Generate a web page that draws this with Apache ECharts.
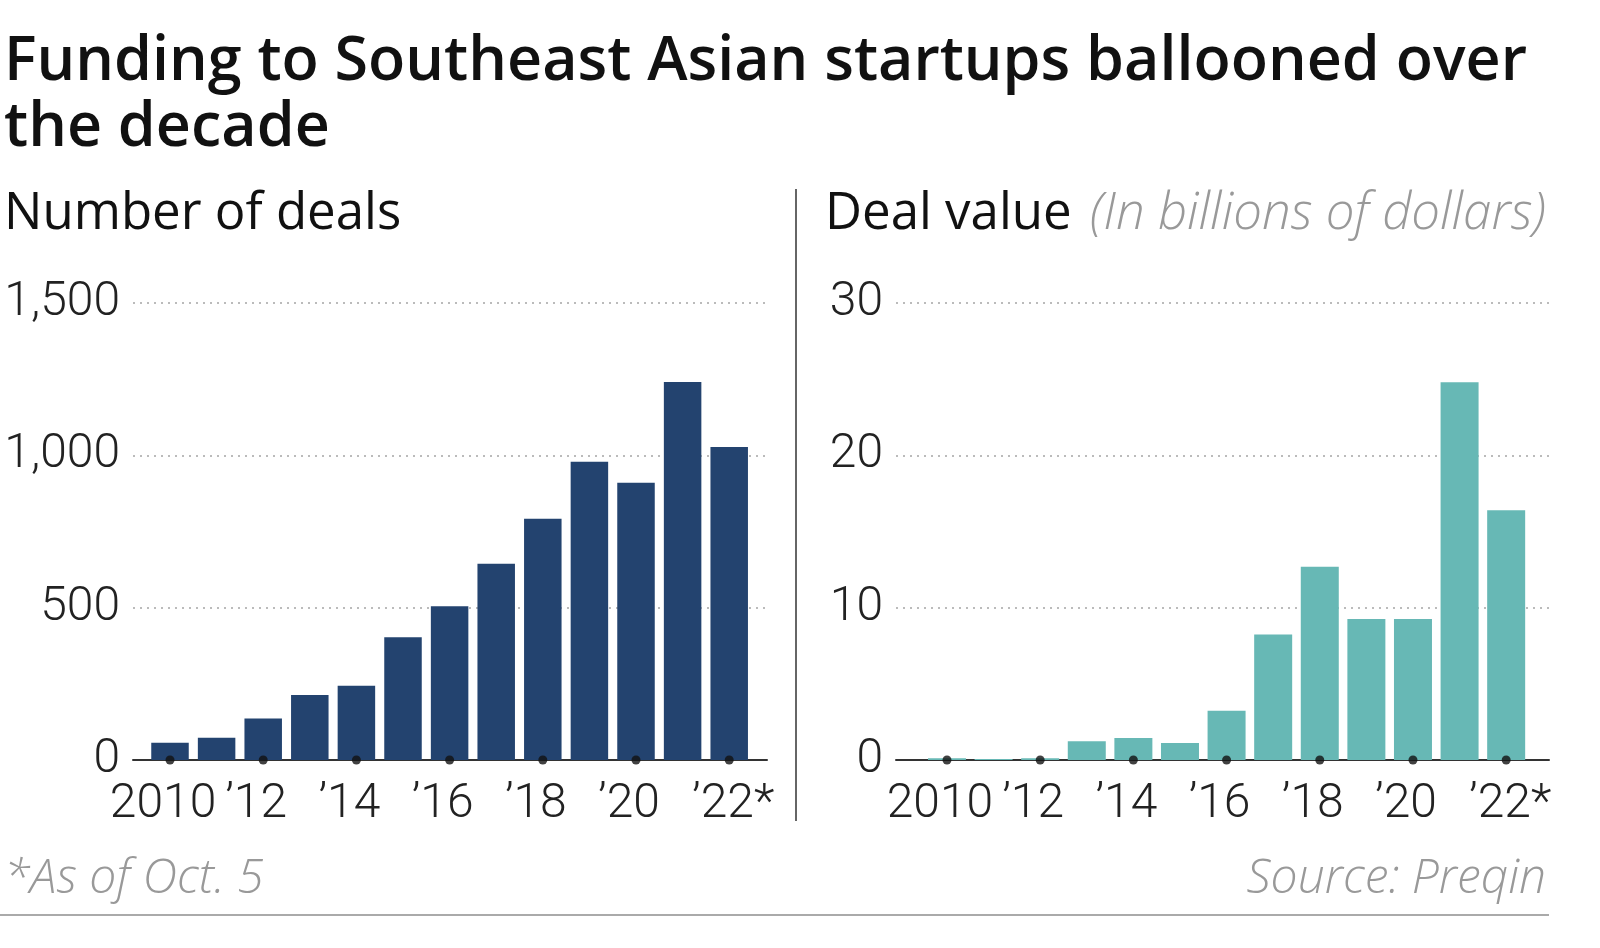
<!DOCTYPE html>
<html>
<head>
<meta charset="utf-8">
<script src="https://cdn.jsdelivr.net/npm/echarts@6/dist/echarts.min.js"></script>
<style>
html,body{margin:0;padding:0;background:#fff;}
#c{width:1600px;height:948px;}
</style>
</head>
<body>
<div id="c"></div>
<script>
// ---- data ----
const years = [2010, 2011, 2012, 2013, 2014, 2015, 2016, 2017, 2018, 2019, 2020, 2021, 2022];
const dealCounts = [57, 73, 136, 213, 244, 403, 505, 644, 792, 979, 910, 1241, 1027];
const dealValues = [0.12, 0.06, 0.12, 1.23, 1.45, 1.12, 3.23, 8.24, 12.68, 9.25, 9.25, 24.8, 16.4];
const tickYears = [2010, 2012, 2014, 2016, 2018, 2020, 2022];
const tickLabels = ['2010', '\u201912', '\u201914', '\u201916', '\u201918', '\u201920', '\u201922*'];
const leftYTicks = [0, 500, 1000, 1500];
const rightYTicks = [0, 10, 20, 30];

const LIGHT = 'Roboto';
const MAIN = '"Open Sans"';

const chart = echarts.init(document.getElementById('c'), null, {renderer: 'canvas'});

function xAxisCfg(gridIndex, min, max) {
  return {
    type: 'value', gridIndex: gridIndex, min: min, max: max,
    splitLine: {show: false},
    axisTick: {show: false},
    axisLine: {show: true, onZero: true, lineStyle: {color: '#333', width: 2}},
    axisLabel: {
      customValues: tickYears,
      margin: 21,
      formatter: function (v) {
        const i = tickYears.indexOf(v);
        if (i < 0) return '';
        return i === tickYears.length - 1 ? '{r|' + tickLabels[i] + '}' : '{l|' + tickLabels[i] + '}';
      },
      rich: {
        l: {fontFamily: LIGHT, fontWeight: 300, fontSize: 48, color: '#222', padding: [0, 14, 0, 0]},
        r: {fontFamily: LIGHT, fontWeight: 300, fontSize: 48, color: '#222', padding: [0, 0, 0, 8]}
      }
    }
  };
}
function yAxisCfg(gridIndex, max, interval, fmt) {
  return {
    type: 'value', gridIndex: gridIndex, min: 0, max: max, interval: interval,
    axisLine: {show: false}, axisTick: {show: false},
    axisLabel: {
      margin: 13, fontFamily: LIGHT, fontWeight: 300, fontSize: 48, color: '#222',
      formatter: fmt
    },
    splitLine: {show: true, lineStyle: {color: '#bbb', width: 2, type: [2, 5]}}
  };
}

const option = {
  backgroundColor: '#fff',
  animation: false,
  grid: [
    {left: 133, top: 303, width: 634, height: 457},
    {left: 896, top: 303, width: 653, height: 457}
  ],
  xAxis: [
    xAxisCfg(0, 2009.206, 2022.811),
    xAxisCfg(1, 2008.906, 2022.919)
  ],
  yAxis: [
    yAxisCfg(0, 1500, 500, function (v) { return v.toLocaleString('en-US'); }),
    yAxisCfg(1, 30, 10, function (v) { return String(v); })
  ],
  series: [
    {
      type: 'bar', xAxisIndex: 0, yAxisIndex: 0, barWidth: 37.5,
      itemStyle: {color: '#23436f'},
      data: years.map(function (y, i) { return [y, dealCounts[i]]; })
    },
    {
      type: 'bar', xAxisIndex: 1, yAxisIndex: 1, barWidth: 38,
      itemStyle: {color: '#67b8b5'},
      data: years.map(function (y, i) { return [y, dealValues[i]]; })
    },
    {
      type: 'scatter', xAxisIndex: 0, yAxisIndex: 0, symbolSize: 9, clip: false, z: 5,
      itemStyle: {color: '#111'}, silent: true,
      data: tickYears.map(function (y) { return [y, 0]; })
    },
    {
      type: 'scatter', xAxisIndex: 1, yAxisIndex: 1, symbolSize: 9, clip: false, z: 5,
      itemStyle: {color: '#111'}, silent: true,
      data: tickYears.map(function (y) { return [y, 0]; })
    }
  ],
  graphic: [
    {type: 'text', left: 4, top: 30, style: {text: 'Funding to Southeast Asian startups ballooned over\nthe decade', fontFamily: MAIN, fontWeight: 600, fontSize: 61, lineHeight: 66, fill: '#111'}},
    {type: 'text', left: 4, top: 189, style: {text: 'Number of deals', fontFamily: MAIN, fontWeight: 500, fontSize: 51, fill: '#111'}},
    {type: 'text', left: 825, top: 189, style: {text: 'Deal value', fontFamily: MAIN, fontWeight: 500, fontSize: 51, fill: '#111'}},
    {type: 'text', left: 1090, top: 189, style: {text: '(In billions of dollars)', fontFamily: MAIN, fontWeight: 300, fontStyle: 'italic', fontSize: 51, fill: '#999'}},
    {type: 'text', left: 4, top: 855, style: {text: '*As of Oct. 5', fontFamily: MAIN, fontWeight: 300, fontStyle: 'italic', fontSize: 48, fill: '#999'}},
    {type: 'text', right: 54, top: 855, style: {text: 'Source: Preqin', fontFamily: MAIN, fontWeight: 300, fontStyle: 'italic', fontSize: 48, fill: '#999'}},
    {type: 'line', shape: {x1: 796, y1: 189, x2: 796, y2: 821}, style: {stroke: '#666', lineWidth: 2}},
    {type: 'line', shape: {x1: 0, y1: 915, x2: 1549, y2: 915}, style: {stroke: '#aaa', lineWidth: 2}}
  ]
};
chart.setOption(option);
</script>
</body>
</html>
